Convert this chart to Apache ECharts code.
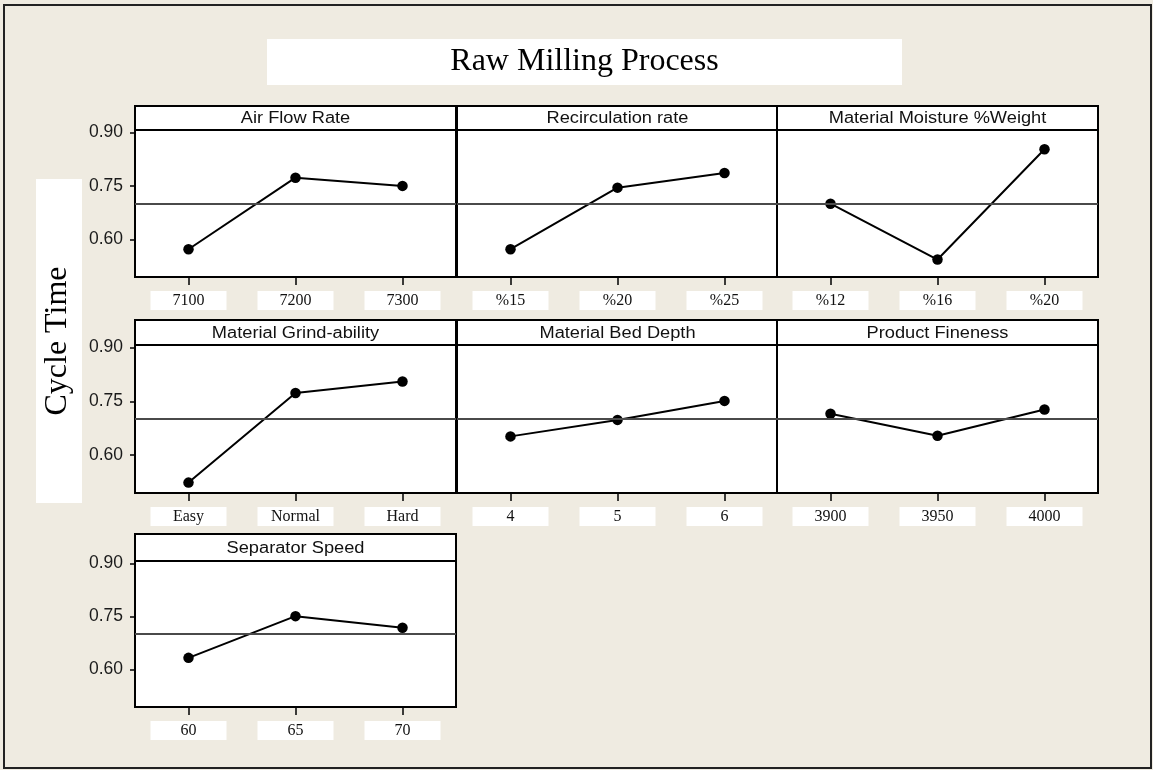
<!DOCTYPE html>
<html>
<head>
<meta charset="utf-8">
<script src="https://cdn.jsdelivr.net/npm/echarts@6/dist/echarts.min.js"></script>
<style>
  html, body { margin: 0; padding: 0; background: #EFEBE1; }
  #chart { width: 1153px; height: 770px; }
</style>
</head>
<body>
<div id="chart"></div>
<script>
// Main effects plot: mean cycle time at each level of every factor
const chartTitle = 'Raw Milling Process';
const yAxisName = 'Cycle Time';

const factorNames = [
  'Air Flow Rate', 'Recirculation rate', 'Material Moisture %Weight',
  'Material Grind-ability', 'Material Bed Depth', 'Product Fineness',
  'Separator Speed'
];

const airFlowLevels       = ['7100', '7200', '7300'];
const recirculationLevels = ['%15', '%20', '%25'];
const moistureLevels      = ['%12', '%16', '%20'];
const grindabilityLevels  = ['Easy', 'Normal', 'Hard'];
const bedDepthLevels      = ['4', '5', '6'];
const finenessLevels      = ['3900', '3950', '4000'];
const separatorLevels     = ['60', '65', '70'];

const airFlowMeans       = [0.572, 0.773, 0.750];
const recirculationMeans = [0.572, 0.745, 0.786];
const moistureMeans      = [0.700, 0.543, 0.853];
const grindabilityMeans  = [0.523, 0.773, 0.805];
const bedDepthMeans      = [0.652, 0.698, 0.751];
const finenessMeans      = [0.715, 0.654, 0.727];
const separatorMeans     = [0.633, 0.751, 0.718];

const grandMean = 0.70;
const yTickValues = [0.60, 0.75, 0.90];

const factorLevels = [airFlowLevels, recirculationLevels, moistureLevels,
  grindabilityLevels, bedDepthLevels, finenessLevels, separatorLevels];
const factorMeans = [airFlowMeans, recirculationMeans, moistureMeans,
  grindabilityMeans, bedDepthMeans, finenessMeans, separatorMeans];

// Panel layout in pixels
const colLeft = [135, 457, 777];
const panelW = 321;
const rowTop = [106, 320, 534];
const stripH = [24, 25, 27];
const rowBottom = [277, 493, 707];
const yMin = 0.494, yMax = 0.907;

const grids = [], xAxes = [], yAxes = [], series = [], graphics = [];

// Outer frame and the two white caption boxes
graphics.push({
  type: 'rect', z: 0,
  shape: { x: 4, y: 5, width: 1147, height: 763 },
  style: { fill: 'none', stroke: '#222', lineWidth: 2 }
});
graphics.push({
  type: 'rect', z: 1,
  shape: { x: 267, y: 39, width: 635, height: 46 },
  style: { fill: '#fff', stroke: null }
});
graphics.push({
  type: 'text', z: 2, x: 584.5, y: 62,
  style: {
    text: chartTitle, fill: '#000', font: '32px "Liberation Serif"',
    textAlign: 'center', textVerticalAlign: 'middle'
  }
});
graphics.push({
  type: 'rect', z: 1,
  shape: { x: 36, y: 179, width: 46, height: 324 },
  style: { fill: '#fff', stroke: null }
});
graphics.push({
  type: 'text', z: 2, x: 58, y: 341, rotation: Math.PI / 2,
  style: {
    text: yAxisName, fill: '#000', font: '32px "Liberation Serif"',
    textAlign: 'center', textVerticalAlign: 'middle'
  }
});

factorNames.forEach((name, i) => {
  const row = Math.floor(i / 3), col = i % 3;
  const left = colLeft[col];
  const top = rowTop[row] + stripH[row];
  const height = rowBottom[row] - top;

  grids.push({
    left: left, top: top, width: panelW, height: height,
    show: true, backgroundColor: '#fff', borderColor: '#000', borderWidth: 2
  });

  xAxes.push({
    type: 'category', gridIndex: i, data: factorLevels[i],
    axisLine: { show: false },
    axisTick: { show: true, alignWithLabel: true, length: 8, lineStyle: { color: '#000', width: 1.5 } },
    axisLabel: {
      margin: 14, fontFamily: 'Liberation Serif', fontSize: 16, color: '#111',
      backgroundColor: '#fff', width: 76, align: 'center', padding: [2, 0, 1, 0], lineHeight: 16
    },
    splitLine: { show: false }
  });

  yAxes.push({
    type: 'value', gridIndex: i, min: yMin, max: yMax,
    axisLine: { show: false },
    splitLine: { show: false },
    axisTick: {
      show: col === 0, length: 5, customValues: yTickValues,
      lineStyle: { color: '#000', width: 1.5 }
    },
    axisLabel: {
      show: col === 0, customValues: yTickValues,
      formatter: v => v.toFixed(2), margin: 12,
      fontFamily: 'Liberation Sans', fontSize: 17.5, color: '#1a1a1a'
    }
  });

  series.push({
    type: 'line', xAxisIndex: i, yAxisIndex: i, data: factorMeans[i],
    symbol: 'circle', symbolSize: 10.5,
    itemStyle: { color: '#000' },
    lineStyle: { color: '#000', width: 2 },
    z: 3,
    markLine: {
      silent: true, symbol: 'none', label: { show: false },
      lineStyle: { color: '#4a4a4a', width: 2, type: 'solid' },
      data: [{ yAxis: grandMean }]
    }
  });

  // Header strip with the factor name
  graphics.push({
    type: 'rect', z: 5,
    shape: { x: left, y: rowTop[row], width: panelW, height: stripH[row] },
    style: { fill: '#fff', stroke: '#000', lineWidth: 2 }
  });
  graphics.push({
    type: 'text', z: 6,
    x: left + panelW / 2, y: rowTop[row] + stripH[row] / 2 + 1,
    scaleX: 1.14,
    style: {
      text: name, fill: '#111', font: '16px "Liberation Sans"',
      textAlign: 'center', textVerticalAlign: 'middle'
    }
  });
});

const chart = echarts.init(document.getElementById('chart'), null, { renderer: 'canvas' });
chart.setOption({
  backgroundColor: '#EFEBE1',
  animation: false,
  grid: grids,
  xAxis: xAxes,
  yAxis: yAxes,
  series: series,
  graphic: { elements: graphics }
});
</script>
</body>
</html>
